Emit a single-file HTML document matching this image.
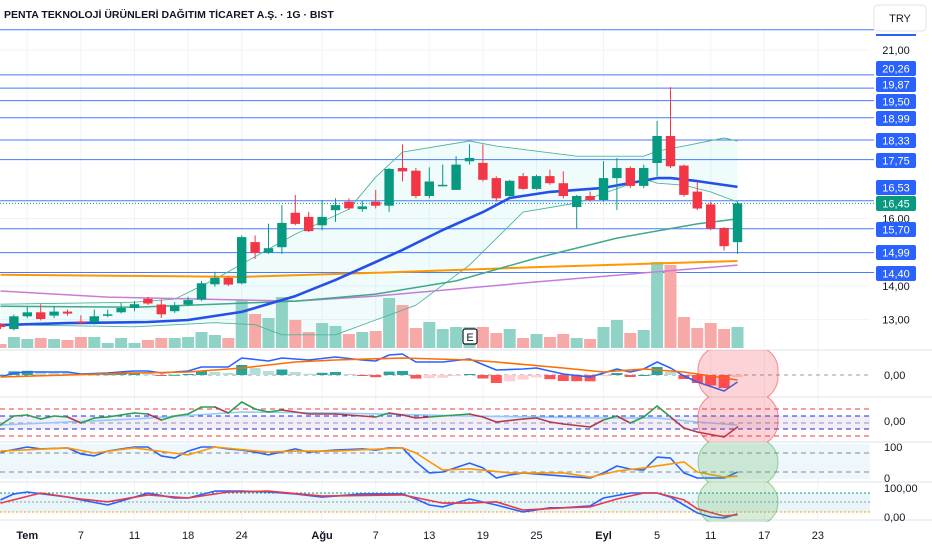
<!DOCTYPE html>
<html><head><meta charset="utf-8"><style>
html,body{margin:0;padding:0;background:#fff;width:932px;height:550px;overflow:hidden;font-family:"Liberation Sans",sans-serif}
svg{display:block}
</style></head><body>
<svg id="chart" width="932" height="550" viewBox="0 0 932 550" xmlns="http://www.w3.org/2000/svg" font-family="Liberation Sans, sans-serif">
<defs>
<clipPath id="cp1"><rect x="0" y="350" width="932" height="47"/></clipPath>
<clipPath id="cp2"><rect x="0" y="397" width="932" height="45"/></clipPath>
<clipPath id="cp3"><rect x="0" y="442" width="932" height="40"/></clipPath>
<clipPath id="cp4"><rect x="0" y="482" width="932" height="40"/></clipPath>
</defs>
<text x="4" y="18" font-size="10.5" font-weight="bold" fill="#131722">PENTA TEKNOLOJİ ÜRÜNLERİ DAĞITIM TİCARET A.Ş. · 1G · BIST</text>
<g><rect x="874" y="5" width="52" height="26" rx="4" fill="#fff" stroke="#e0e3eb"/><text x="900" y="22" font-size="11" text-anchor="middle" fill="#131722">TRY</text></g>
<g id="grid"></g><g id="panes"></g><g id="levels"></g><g id="main"></g><g id="ind"></g><g id="axis"></g>
</svg>
<script>
const NS='http://www.w3.org/2000/svg';
// ---- price data ----
const opens=[12.85,12.72,13.1,13.22,13.12,13.24,12.95,12.93,13.12,13.22,13.35,13.62,13.45,13.25,13.45,13.6,14.05,14.24,14.08,15.3,14.99,15.15,16.17,16.05,15.8,16.25,16.5,16.28,16.5,16.38,17.5,17.42,16.67,16.98,16.85,17.7,17.65,17.2,16.67,17.26,16.88,17.26,17.05,16.34,16.67,16.55,17.2,17.5,16.97,17.65,18.45,17.57,16.8,16.42,15.72,15.3];
const highs=[12.9,13.15,13.38,13.46,13.4,13.3,13.13,13.3,13.3,13.5,13.55,13.68,13.6,13.52,13.68,14.15,14.42,14.28,15.5,15.5,15.85,16.4,16.7,16.2,16.55,16.6,16.6,16.52,16.85,17.5,18.2,17.5,17.52,17.6,17.85,18.2,18.2,17.25,17.15,17.35,17.3,17.45,17.4,16.7,16.8,17.7,17.8,17.55,17.6,18.9,19.9,17.6,17.1,16.5,15.75,16.5];
const lows=[12.72,12.68,13.05,12.98,13.05,13.12,12.88,12.85,13.08,13.18,13.25,13.44,13.05,13.2,13.4,13.55,13.98,14.0,14.05,14.8,14.95,14.95,15.8,15.6,15.65,15.9,16.25,16.2,16.3,16.2,17.1,16.6,16.6,16.95,16.85,17.6,17.1,16.5,16.6,16.85,16.85,17.0,16.6,15.7,16.5,16.5,16.25,16.9,16.9,17.25,17.5,16.65,16.25,15.65,15.05,14.95];
const closes=[12.78,13.1,13.22,13.02,13.24,13.18,12.92,13.1,13.16,13.35,13.46,13.48,13.16,13.42,13.58,14.08,14.24,14.04,15.45,14.98,15.12,15.87,15.84,15.63,16.05,16.4,16.3,16.36,16.38,17.47,17.4,16.67,17.1,17.0,17.6,17.8,17.15,16.6,17.12,16.88,17.26,17.05,16.67,16.67,16.55,17.2,17.5,16.97,17.5,18.45,17.55,16.7,16.3,15.7,15.18,16.45];
const volumes=[4,11,9,10,9,8,11,11,5,10,5,8,10,10,11,16,13,10,48,34,30,51,28,16,25,22,14,16,17,50,43,20,26,19,21,21,21,15,19,10,14,11,14,10,9,21,28,15,18,86,83,31,20,25,19,21];
const levelPrices=[21.6,20.26,19.87,19.50,18.99,18.33,17.75,16.53,15.70,14.99,14.40];
const levelLabels=['20,26','19,87','19,50','18,99','18,33','17,75','16,53','15,70','14,99','14,40'];
const levelLabelY=[61,77,94,111,133,153,180,222,245,266];
const lastPrice=16.45;
const priceTicks=[21,16,14,13];
const priceTickLabels=['21,00','16,00','14,00','13,00'];
// moving averages (sparse: bar index + value)
const emaIdx=[0,5,11,14,18,22,25,28,30,33,36,38,41,45,49,50,52,55];
const emaVal=[12.84,12.9,12.93,12.99,13.23,13.7,14.18,14.71,15.07,15.66,16.19,16.61,16.79,16.91,17.2,17.2,17.11,16.94];
const sma200Idx=[0,10,18,28,40,55];
const sma200Val=[14.33,14.3,14.27,14.39,14.56,14.74];
const smaPurpleIdx=[0,8,15,22,28,40,55];
const smaPurpleVal=[13.85,13.67,13.61,13.55,13.7,14.12,14.62];
const sma50Idx=[0,10,16,22,28,34,40,46,52,55];
const sma50Val=[13.4,13.37,13.46,13.55,13.76,14.15,14.83,15.42,15.84,15.99];
const bbUpIdx=[0,10,13,16,18,22,26,28,30,35,37,43,48,49,51,54,55];
const bbUpVal=[13.46,13.52,13.61,14.2,14.65,15.54,16.28,17.23,17.97,18.3,18.15,17.85,17.85,18.0,18.15,18.39,18.3];
const bbLoIdx=[0,10,16,19,21,25,28,31,35,39,43,48,49,51,53,55];
const bbLoVal=[12.85,12.79,12.91,12.85,12.55,12.55,12.99,13.43,14.62,16.19,16.46,17.17,17.05,16.99,16.79,16.49];
// MACD pane
const macdIdx=[0,1,2,4,5,6,8,10,11,12,14,15,17,18,20,21,23,25,27,28,29,30,31,33,35,37,39,40,42,44,46,47,48,49,50,51,52,54,55];
const macdVal=[-2,2,3,3,3,1,2,4,4,2,4,8,8,17,14,17,15,18,15,14,20,21,13,13,16,5,6,7,1,-2,6,3,6,13,7,-1,-7,-16,-7];
const signalIdx=[0,10,14,18,22,25,30,35,37,42,45,48,51,52,55];
const signalVal=[-2,2,3,7,13,15,17,15,13,7,3,6,3,1,-5];
// oscillator pane 2
const oscIdx=[0,1,2,3,4,5,6,7,8,10,11,12,13,14,15,16,17,18,19,20,21,23,25,27,28,29,30,31,32,35,36,37,39,40,41,42,44,45,46,47,48,49,50,51,52,54,55];
const oscVal=[-2,7,8,4,7,6,0,5,6,10,9,3,7,9,16,16,10,21,14,11,13,9,9,7,6,10,8,5,6,9,6,1,4,5,1,-1,-4,3,7,0,6,17,6,-5,-9,-14,-4];
const oscSigIdx=[0,10,18,25,35,45,49,52,55];
const oscSigVal=[-2,4,11,10,7,5,5,1,-2];
// stochastic pane 3
const k3Idx=[0,2,3,5,6,7,8,10,11,12,13,14,15,16,17,18,19,20,22,23,25,27,28,29,30,31,32,33,35,36,37,38,39,42,44,45,46,47,48,49,50,51,52,54,55];
const k3Val=[83,99,93,96,77,71,86,99,99,71,64,86,99,99,93,89,83,74,93,83,89,93,89,96,96,52,17,20,48,33,1,11,17,7,1,17,39,29,26,67,64,17,1,1,20];
const d3Idx=[0,5,7,10,14,16,20,22,25,30,31,33,35,38,42,44,46,48,51,52,54,55];
const d3Val=[86,96,80,96,74,99,83,86,86,96,80,26,30,17,17,4,23,33,52,20,4,7];
// stochastic pane 4
const k4Idx=[0,1,2,5,6,8,10,11,13,14,16,18,20,22,24,27,30,31,32,33,35,37,39,41,42,44,45,47,49,50,51,52,53,54,55];
const k4Val=[58,77,83,67,58,42,67,80,64,64,86,86,83,77,67,77,77,61,42,36,61,42,20,33,33,39,64,80,80,67,42,17,4,1,14];
const d4Idx=[0,3,6,8,11,14,17,20,24,30,33,35,37,39,42,44,46,48,49,51,52,54,55];
const d4Val=[48,80,61,52,74,64,83,86,70,74,48,48,52,26,33,36,61,80,80,58,30,7,11];
const dateIdx=[2,6,10,14,18,24,28,32,36,40,45,49,53,57,61];
const dateLabels=['Tem','7','11','18','24','Ağu','7','13','19','25','Eyl','5','11','17','23'];
const monthFlags=[1,0,0,0,0,1,0,0,0,0,1,0,0,0,0];

// ---- scales ----
function X(i){return 737.5-13.4*(55-i);}
function Y(p){return 50+(21-p)*33.71;}
function Ymacd(v){return 375-v;}
function Yosc(v){return 423-v;}
function Y3(v){return 472-(v-20)*19/60;}
function Y4(v){return 518.3-v*0.3167;}
function mk(parent,tag,attrs){const e=document.createElementNS(NS,tag);for(const k in attrs)e.setAttribute(k,attrs[k]);document.getElementById(parent).appendChild(e);return e;}
function pts(idx,val,fy){return idx.map((i,k)=>X(i).toFixed(1)+','+fy(val[k]).toFixed(1)).join(' ');}
function line(parent,name,idx,val,fy,color,w,dash){
  const e=mk(parent,'polyline',{points:pts(idx,val,fy),fill:'none',stroke:color,'stroke-width':w,'stroke-linejoin':'round'});
  if(dash)e.setAttribute('stroke-dasharray',dash);
  
  
  return e;}
function interp(idx,val,i){if(i<=idx[0])return val[0];for(let k=1;k<idx.length;k++){if(i<=idx[k]){const t=(i-idx[k-1])/(idx[k]-idx[k-1]);return val[k-1]+t*(val[k]-val[k-1]);}}return val[val.length-1];}

// ---- grid ----
dateIdx.forEach((d,k)=>{const g=mk('grid','line',{x1:X(d),x2:X(d),y1:28,y2:522,stroke:'#f0f3fa','stroke-width':1});

});
priceTicks.forEach(p=>{const g=mk('grid','line',{x1:0,x2:870,y1:Y(p),y2:Y(p),stroke:'#f0f3fa'});

});

// ---- panes ----
[[350],[397],[442],[482],[520]].forEach(a=>{const s=mk('panes','line',{x1:0,x2:932,y1:a[0],y2:a[0],stroke:'#e0e3eb'});

});
let f=mk('panes','rect',{x:0,y:416,width:870,height:13,fill:'#ede9f8',opacity:0.8});


f=mk('panes','rect',{x:0,y:444,width:870,height:35,fill:'#eef8fc'});


f=mk('panes','rect',{x:0,y:493,width:870,height:19,fill:'#e9f6f9'});


const dashLines=[[375,'#9598a1','4,4'],[409,'#f23645','5,4'],[416,'#1f2bd6','5,4'],[423,'#9598a1','5,4'],[429,'#1f2bd6','5,4'],[436,'#f23645','5,4'],[453,'#868993','5,4'],[472,'#868993','5,4'],[493,'#089981','2,2'],[502,'#9598a1','2,2'],[512,'#ff9800','2,2']];
dashLines.forEach(d=>{const l=mk('panes','line',{x1:0,x2:870,y1:d[0],y2:d[0],stroke:d[1],'stroke-dasharray':d[2],'stroke-width':1});

});

// ---- level lines ----
levelPrices.forEach(p=>{const l=mk('levels','line',{x1:0,x2:874,y1:Y(p).toFixed(1),y2:Y(p).toFixed(1),stroke:'#2962ff','stroke-width':1,opacity:0.85});

});
let lp=mk('levels','line',{x1:0,x2:874,y1:Y(lastPrice),y2:Y(lastPrice),stroke:'#089981','stroke-dasharray':'1,2'});



// ---- bollinger fill ----
(function(){let d='';for(let i=0;i<=55;i++){d+=(i?'L':'M')+X(i).toFixed(1)+','+Y(interp(bbUpIdx,bbUpVal,i)).toFixed(1);}
for(let i=55;i>=0;i--){d+='L'+X(i).toFixed(1)+','+Y(interp(bbLoIdx,bbLoVal,i)).toFixed(1);}
const p=mk('main','path',{d:d+'Z',fill:'#00bcd4','fill-opacity':0.06});

})();

// ---- volume ----
volumes.forEach((v,i)=>{const up=closes[i]>=opens[i];
const r=mk('main','rect',{x:(X(i)-6).toFixed(1),y:348-v,width:12,height:v,fill:up?'#8fd3c7':'#f7a9a7'});

});

line('main','bb-upper',bbUpIdx,bbUpVal,Y,'#4db69a',0.9);
line('main','bb-lower',bbLoIdx,bbLoVal,Y,'#4db69a',0.9);
line('main','sma-purple',smaPurpleIdx,smaPurpleVal,Y,'#c77dd6',1.5);
line('main','sma-orange',sma200Idx,sma200Val,Y,'#ff9800',2);
line('main','sma-50',sma50Idx,sma50Val,Y,'#3fa98a',1.5);
line('main','ema-blue',emaIdx,emaVal,Y,'#2450e8',2.6);

// ---- candles ----
opens.forEach((o,i)=>{const c=closes[i],up=c>=o,col=up?'#089981':'#f23645',x=X(i);
const w=mk('main','line',{x1:x,x2:x,y1:Y(highs[i]).toFixed(1),y2:Y(lows[i]).toFixed(1),stroke:col,'stroke-width':1});


const top=Y(Math.max(o,c)),h=Math.max(1.5,Math.abs(Y(o)-Y(c)));
const b=mk('main','rect',{x:(x-4.7).toFixed(1),y:top.toFixed(1),width:9.4,height:h.toFixed(1),fill:col});

});

// earnings marker
let em=mk('main','rect',{x:463,y:329,width:14,height:15,rx:2,fill:'#fff',stroke:'#131722','stroke-width':1.2});


let et=mk('main','text',{x:470,y:341,'font-size':11,'text-anchor':'middle',fill:'#131722'});et.textContent='E';



// ---- MACD pane ----
for(let i=0;i<=55;i++){const h=interp(macdIdx,macdVal,i)-interp(signalIdx,signalVal,i);const hp=i?interp(macdIdx,macdVal,i-1)-interp(signalIdx,signalVal,i-1):h;
let col=h>=0?(h>=hp?'#26a69a':'#b2dfdb'):(h<hp?'#ff5252':'#ffcdd2');
const r=mk('ind','rect',{x:(X(i)-5.5).toFixed(1),y:Math.min(375,375-h).toFixed(1),width:11,height:Math.max(1,Math.abs(h)).toFixed(1),fill:col});

}
line('ind','macd-line',macdIdx,macdVal,Ymacd,'#2962ff',1.6);
line('ind','macd-signal',signalIdx,signalVal,Ymacd,'#ff6d00',1.6);

// ---- oscillator pane ----
line('ind','osc-signal',oscSigIdx,oscSigVal,Yosc,'#90caf9',1.6);
for(let k=1;k<oscIdx.length;k++){const a=oscIdx[k-1],b=oscIdx[k];const above=oscVal[k]>=interp(oscSigIdx,oscSigVal,b);
const s=mk('ind','line',{x1:X(a),y1:Yosc(oscVal[k-1]),x2:X(b),y2:Yosc(oscVal[k]),stroke:above?'#2e9e4f':'#b03a48','stroke-width':1.6,'stroke-linecap':'round'});

}

// ---- stochastic panes ----
line('ind','stoch-k',k3Idx,k3Val,Y3,'#2962ff',1.6);
line('ind','stoch-d',d3Idx,d3Val,Y3,'#ff9800',1.6);
line('ind','stochrsi-k',k4Idx,k4Val,Y4,'#2962ff',1.6);
line('ind','stochrsi-d',d4Idx,d4Val,Y4,'#e53950',1.6);

// ---- signal zones (rounded columns, clipped per pane) ----
[[350,47,'#f23645','cp1'],[397,45,'#f23645','cp2'],[442,40,'#4caf50','cp3'],[482,40,'#4caf50','cp4']].forEach(e=>{
const el=mk('ind','rect',{x:698,y:e[0]-4,width:80,height:e[1]+8,rx:24,ry:24,fill:e[2],'fill-opacity':0.22,stroke:e[2],'stroke-opacity':0.55,'clip-path':'url(#'+e[3]+')'});

});

// ---- price axis ----
priceTicks.forEach((p,k)=>{const t=mk('axis','text',{x:896,y:(Y(p)+4).toFixed(1),'font-size':11,'text-anchor':'middle',fill:'#131722'});t.textContent=priceTickLabels[k];

});
levelLabels.forEach((s,k)=>{const y=levelLabelY[k];
const r=mk('axis','rect',{x:876,y:y,width:40,height:15,rx:2,fill:'#2962ff'});


const t=mk('axis','text',{x:896,y:y+11.5,'font-size':11,'text-anchor':'middle',fill:'#fff'});t.textContent=s;

});
let lr=mk('axis','rect',{x:876,y:196,width:40,height:15,rx:2,fill:'#089981'});


let lt=mk('axis','text',{x:896,y:207.5,'font-size':11,'text-anchor':'middle',fill:'#fff'});lt.textContent='16,45';


let tb=mk('axis','rect',{x:876,y:34,width:40,height:2,fill:'#2962ff'});


[[379,'0,00'],[425,'0,00'],[451,'100'],[482,'0'],[492,'100,00'],[521,'0,00']].forEach(a=>{
const t=mk('axis','text',{x:884,y:a[0],'font-size':11,fill:'#131722'});t.textContent=a[1];

});

// ---- date axis ----
dateIdx.forEach((d,k)=>{const t=mk('axis','text',{x:X(d).toFixed(1),y:539,'font-size':11,'text-anchor':'middle',fill:'#131722','font-weight':monthFlags[k]?'bold':'normal'});t.textContent=dateLabels[k];

});
</script>
</body></html>
